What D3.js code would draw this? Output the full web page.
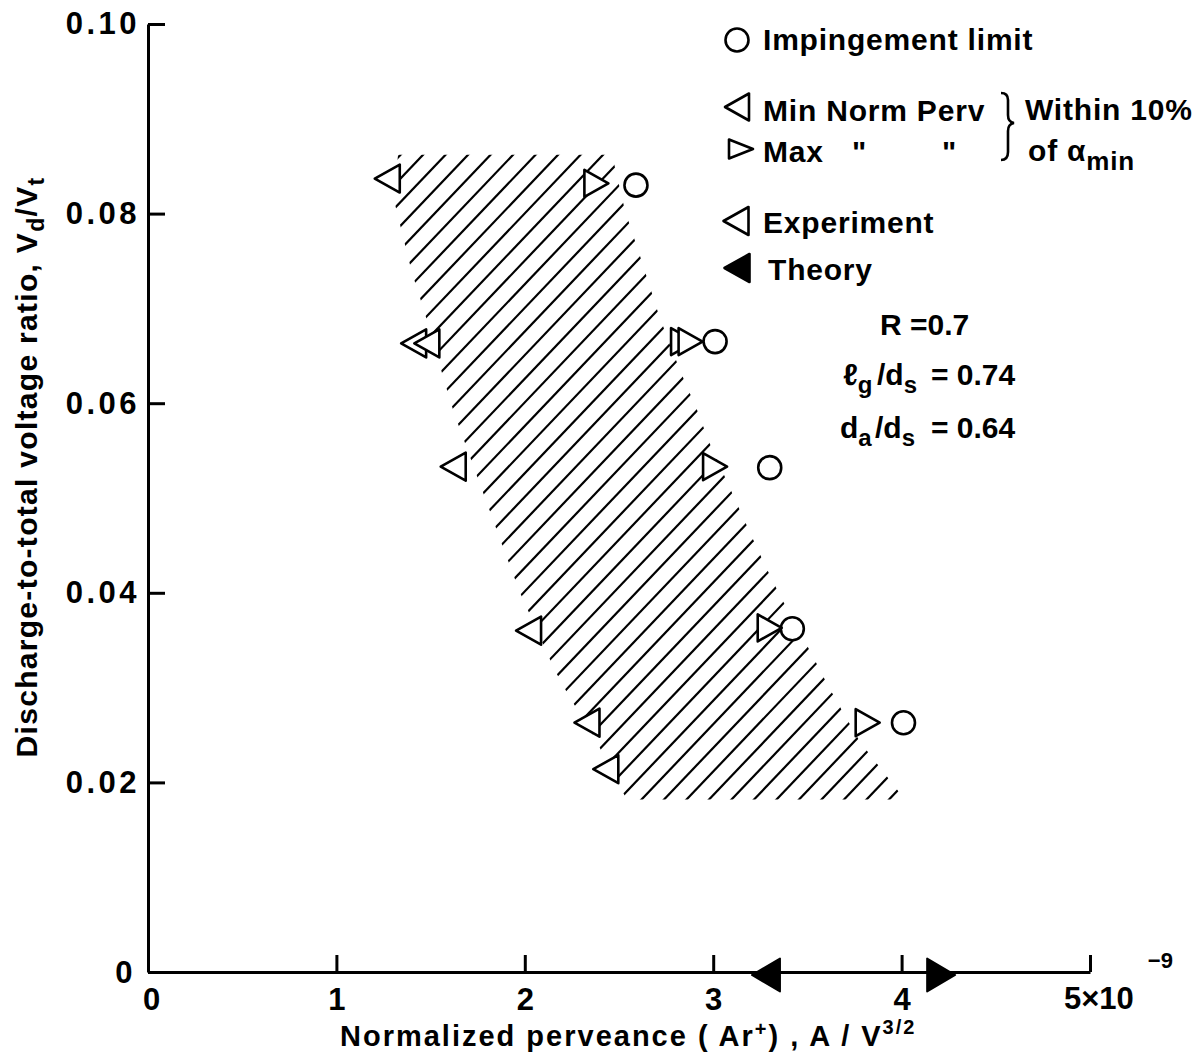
<!DOCTYPE html>
<html>
<head>
<meta charset="utf-8">
<script src="https://cdn.jsdelivr.net/npm/d3@7"></script>
<style>
  body { margin: 0; background: #fff; }
  text { font-family: "Liberation Sans", Arial, sans-serif; font-weight: bold; fill: #000; }
</style>
</head>
<body>
<svg width="1199" height="1055"></svg>
<script>
// axis ticks
const xTicks = [0, 1, 2, 3, 4, 5];
const yTicks = [0, 0.02, 0.04, 0.06, 0.08, 0.10];
const yTickLabels = ["0", "0.02", "0.04", "0.06", "0.08", "0.10"];

// perveance (x1e-9 A/V^3/2), voltage ratio Vd/Vt
const impingement = [[2.59, 0.0830], [3.01, 0.0665], [3.30, 0.0532], [3.42, 0.0362], [4.01, 0.0263]];
const maxPerv = [[2.38, 0.0832], [2.84, 0.0665], [2.88, 0.0665], [3.01, 0.0533], [3.30, 0.0363], [3.82, 0.0263]];
const minPerv = [[1.27, 0.0837], [1.41, 0.0663], [1.48, 0.0663], [1.62, 0.0533], [2.02, 0.0360], [2.33, 0.0263], [2.43, 0.0214]];
const theory = [3.28, 4.21];

// hatched band edges
const bandLeft = [[1.327, 0.0862], [1.306, 0.0814], [1.353, 0.0776], [1.401, 0.0738], [1.460, 0.0701],
  [1.513, 0.0666], [1.566, 0.0628], [1.624, 0.0590], [1.688, 0.0555], [1.752, 0.0520], [1.815, 0.0486],
  [1.879, 0.0451], [1.975, 0.0400], [2.054, 0.0365], [2.160, 0.0318], [2.240, 0.0289], [2.320, 0.0264],
  [2.383, 0.0243], [2.452, 0.0214], [2.542, 0.0182]];
const bandRight = [[2.463, 0.0862], [2.532, 0.0803], [2.622, 0.0749], [2.707, 0.0696], [2.771, 0.0661],
  [2.840, 0.0627], [2.914, 0.0593], [2.978, 0.0559], [3.047, 0.0529], [3.126, 0.0494], [3.201, 0.0461],
  [3.275, 0.0429], [3.355, 0.0397], [3.439, 0.0366], [3.524, 0.0335], [3.604, 0.0304], [3.689, 0.0274],
  [3.779, 0.0243], [3.880, 0.0217], [3.986, 0.0190], [3.997, 0.0182]];

const svg = d3.select("svg");
const x = d3.scaleLinear().domain([0, 5]).range([148, 1090]);
const y = d3.scaleLinear().domain([0, 0.10]).range([972, 24]);

// triangle path, dir -1 points left, +1 points right
function tri(dir, w, h) {
  return `M${dir * w / 2},0L${-dir * w / 2},${-h / 2}L${-dir * w / 2},${h / 2}Z`;
}

// hatched band
const bandPoly = bandLeft.concat(bandRight.slice().reverse());
svg.append("clipPath").attr("id", "band")
  .append("path")
  .attr("d", d3.line().x(d => x(d[0])).y(d => y(d[1]))(bandPoly) + "Z");

const slope = 1.05, step = 22.5;
const hatch = d3.range(-400, 1000, step);
svg.append("g").attr("clip-path", "url(#band)")
  .selectAll("line").data(hatch).join("line")
  .attr("x1", d => d).attr("y1", 830)
  .attr("x2", d => d + 720 / slope).attr("y2", 110)
  .attr("stroke", "#000").attr("stroke-width", 2.2);

// axes
const yAxis = d3.axisLeft(y).tickValues(yTicks)
  .tickFormat((d, i) => yTickLabels[i])
  .tickSizeInner(-17).tickSizeOuter(0).tickPadding(8);
const gy = svg.append("g").attr("transform", "translate(148,0)").call(yAxis);
gy.selectAll("text").style("font-size", "31px").style("letter-spacing", "3.5px")
  .style("font-family", "'Liberation Sans', Arial, sans-serif");
gy.select(".domain").attr("stroke-width", 3);
gy.selectAll(".tick line").attr("stroke-width", 3);
gy.selectAll(".tick").filter(d => d === 0).select("text").attr("x", -12).attr("y", 1);

const xAxis = d3.axisBottom(x).tickValues(xTicks)
  .tickFormat(d => d === 5 ? "" : d)
  .tickSizeInner(-17).tickSizeOuter(0).tickPadding(16);
const gx = svg.append("g").attr("transform", "translate(0,972)").call(xAxis);
gx.selectAll("text").style("font-size", "31px")
  .style("font-family", "'Liberation Sans', Arial, sans-serif");
gx.select(".domain").attr("stroke-width", 3);
gx.selectAll(".tick line").attr("stroke-width", 3);
gx.selectAll(".tick").filter(d => d === 0).select("text").attr("x", 3);

const five = svg.append("text").attr("x", 1064).attr("y", 1009).style("font-size", "31px");
five.append("tspan").text("5×10");
five.append("tspan").attr("dx", 14).attr("dy", -41).style("font-size", "22px").text("−9");

// theory markers on the axis
svg.selectAll(".theory").data(theory).join("path")
  .attr("transform", (d, i) => `translate(${x(d)},${y(0) + 3})`)
  .attr("d", (d, i) => tri(i === 0 ? -1 : 1, 28, 33))
  .attr("fill", "#000").attr("stroke", "#000").attr("stroke-width", 2).attr("stroke-linejoin", "round");

// data markers
const mk = svg.append("g").attr("fill", "none").attr("stroke", "#000")
  .attr("stroke-width", 2.6).attr("stroke-linejoin", "round");
mk.selectAll(".imp").data(impingement).join("circle")
  .attr("cx", d => x(d[0])).attr("cy", d => y(d[1])).attr("r", 11.5).attr("fill", "#fff");
mk.selectAll(".max").data(maxPerv).join("path")
  .attr("transform", d => `translate(${x(d[0])},${y(d[1])})`)
  .attr("d", tri(1, 24, 27)).attr("fill", "#fff");
mk.selectAll(".min").data(minPerv).join("path")
  .attr("transform", d => `translate(${x(d[0])},${y(d[1])})`)
  .attr("d", tri(-1, 25, 28)).attr("fill", "#fff");

// legend
const lg = svg.append("g");
lg.append("circle").attr("cx", 737).attr("cy", 40).attr("r", 11.5)
  .attr("fill", "none").attr("stroke", "#000").attr("stroke-width", 2.6);
lg.append("path").attr("transform", "translate(737,107)").attr("d", tri(-1, 24, 27))
  .attr("fill", "none").attr("stroke", "#000").attr("stroke-width", 2.6).attr("stroke-linejoin", "round");
lg.append("path").attr("transform", "translate(741,149)").attr("d", tri(1, 24, 19))
  .attr("fill", "none").attr("stroke", "#000").attr("stroke-width", 2.6).attr("stroke-linejoin", "round");
lg.append("path").attr("transform", "translate(736,221)").attr("d", tri(-1, 25, 28))
  .attr("fill", "none").attr("stroke", "#000").attr("stroke-width", 2.6).attr("stroke-linejoin", "round");
lg.append("path").attr("transform", "translate(737,268)").attr("d", tri(-1, 25, 28))
  .attr("fill", "#000").attr("stroke", "#000").attr("stroke-width", 2.6).attr("stroke-linejoin", "round");

function label(tx, ty, str) {
  return lg.append("text").attr("x", tx).attr("y", ty)
    .style("font-size", "30px").style("letter-spacing", "0.8px").text(str);
}
label(763, 50, "Impingement limit");
label(763, 121, "Min Norm Perv");
label(763, 162, "Max");
label(852, 162, "\"");
label(942, 162, "\"");
label(1025, 120, "Within 10%");
const ofa = label(1028, 161, "of α");
ofa.append("tspan").attr("dy", 9).style("font-size", "26px").text("min");
label(763, 233, "Experiment");
label(768, 280, "Theory");

lg.append("path")
  .attr("d", "M1001,93 Q1008,93 1008,100 L1008,115 Q1008,122 1014,123 Q1008,124 1008,131 L1008,152 Q1008,160 1001,160")
  .attr("fill", "none").attr("stroke", "#000").attr("stroke-width", 2.6);

// geometry annotations
const ann = svg.append("g").style("font-size", "30px");
ann.append("text").attr("x", 880).attr("y", 335).text("R =0.7");
const t2 = ann.append("text").attr("x", 843).attr("y", 385);
t2.append("tspan").text("ℓ");
t2.append("tspan").attr("dy", 8).style("font-size", "24px").text("g");
t2.append("tspan").attr("x", 877).attr("dy", -8).text("/d");
t2.append("tspan").attr("dy", 8).style("font-size", "24px").text("s");
t2.append("tspan").attr("x", 931).attr("dy", -8).text("= 0.74");
const t3 = ann.append("text").attr("x", 840).attr("y", 438);
t3.append("tspan").text("d");
t3.append("tspan").attr("dy", 8).style("font-size", "24px").text("a");
t3.append("tspan").attr("x", 875).attr("dy", -8).text("/d");
t3.append("tspan").attr("dy", 8).style("font-size", "24px").text("s");
t3.append("tspan").attr("x", 931).attr("dy", -8).text("= 0.64");

// axis titles
const xt = svg.append("text").attr("x", 340).attr("y", 1046)
  .style("font-size", "29px").style("letter-spacing", "2px");
xt.append("tspan").text("Normalized perveance  ( Ar");
xt.append("tspan").attr("dy", -10).style("font-size", "20px").text("+");
xt.append("tspan").attr("dy", 10).text(") ,  A / V");
xt.append("tspan").attr("dy", -12).style("font-size", "20px").text("3/2");

const yt = svg.append("text").attr("transform", "translate(37,467) rotate(-90)")
  .attr("text-anchor", "middle").style("font-size", "30px").style("letter-spacing", "1.3px");
yt.append("tspan").text("Discharge-to-total voltage ratio, V");
yt.append("tspan").attr("dy", 7).style("font-size", "23px").text("d");
yt.append("tspan").attr("dy", -7).text("/V");
yt.append("tspan").attr("dy", 7).style("font-size", "23px").text("t");
</script>
</body>
</html>
